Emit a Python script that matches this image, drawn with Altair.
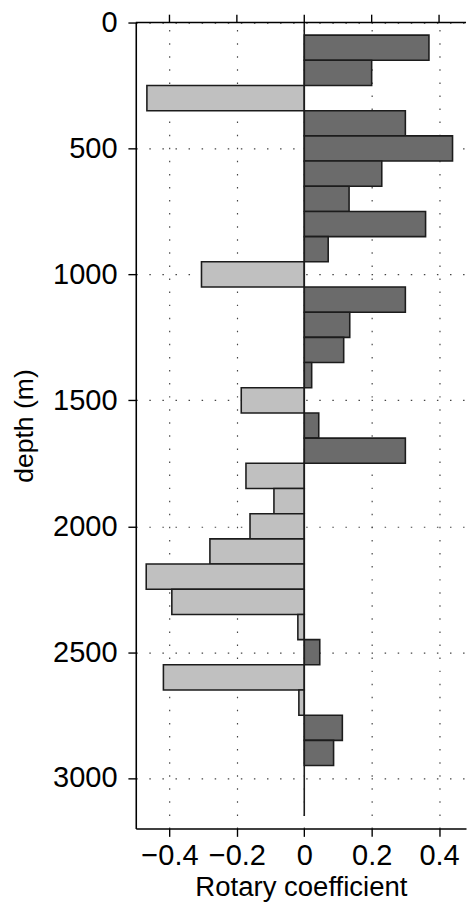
import altair as alt
import pandas as pd

# depth bin centres (m) and rotary coefficient per bin
depth_center = [100, 200, 300, 400, 500, 600, 700, 800, 900, 1000,
                1100, 1200, 1300, 1400, 1500, 1600, 1700, 1800, 1900, 2000,
                2100, 2200, 2300, 2400, 2500, 2600, 2700, 2800, 2900, 3000, 3100]
rotary = [0.37, 0.20, -0.467, 0.30, 0.44, 0.23, 0.133, 0.36, 0.071, -0.305,
          0.30, 0.135, 0.117, 0.022, -0.187, 0.043, 0.30, -0.173, -0.09, -0.161,
          -0.28, -0.469, -0.393, -0.019, 0.046, -0.418, -0.016, 0.113, 0.087, 0.0, 0.0]
bin_width = 100
x_domain = [-0.5, 0.48]
y_domain = [0, 3200]
x_ticks = [-0.4, -0.2, 0, 0.2, 0.4]
y_ticks = [0, 500, 1000, 1500, 2000, 2500, 3000]
zero_line = {"x": 0, "top": 0, "bottom": 3150}

df = pd.DataFrame({"depth": depth_center, "rc": rotary})
df = df[df["rc"] != 0]
df["sign"] = ["pos" if v > 0 else "neg" for v in df["rc"]]

FONT = "Liberation Sans"
xscale = alt.Scale(domain=x_domain, nice=False, zero=False)
yscale = alt.Scale(domain=y_domain, reverse=True, nice=False, zero=False)

lab_expr = "datum.value == 0 ? '0' : replace(format(datum.value, '.1f'), '-', '\u2212')"

xaxis = alt.Axis(orient="bottom", values=x_ticks, labelExpr=lab_expr,
                 title="Rotary coefficient", grid=True, titleFontSize=28,
                 tickSize=8, labelPadding=6, titlePadding=3.5)
yaxis = alt.Axis(orient="left", values=y_ticks, format="d", title="depth (m)", grid=True,
                 tickSize=8, labelPadding=11, titlePadding=14, titleFontSize=27)

bars = alt.Chart(df).transform_calculate(
    top=f"datum.depth - {bin_width}/2",
    bot=f"datum.depth + {bin_width}/2",
    zero="0",
).mark_bar(stroke="#1c1c1c", strokeWidth=1.6).encode(
    x=alt.X("rc:Q", scale=xscale, axis=xaxis),
    x2=alt.X2("zero:Q"),
    y=alt.Y("top:Q", scale=yscale, axis=yaxis),
    y2=alt.Y2("bot:Q"),
    color=alt.Color("sign:N", scale=alt.Scale(domain=["pos", "neg"], range=["#6b6b6b", "#c0c0c0"]),
                    legend=None),
)

zl = alt.Chart(pd.DataFrame([zero_line])).mark_rule(color="#1c1c1c", strokeWidth=1.6).encode(
    x=alt.X("x:Q", scale=xscale, axis=xaxis),
    y=alt.Y("top:Q", scale=yscale, axis=yaxis),
    y2=alt.Y2("bottom:Q"),
)

# top frame line and outward ticks
top_frame = alt.Chart(pd.DataFrame({"x0": [x_domain[0]], "x1": [x_domain[1]], "y": [y_domain[0]]})).mark_rule(
    color="black", strokeWidth=1.6).encode(
    x=alt.X("x0:Q", scale=xscale, axis=xaxis),
    x2=alt.X2("x1:Q"),
    y=alt.Y("y:Q", scale=yscale, axis=yaxis),
)
top_ticks = alt.Chart(pd.DataFrame({"t": x_ticks})).mark_rule(
    color="black", strokeWidth=1.4).encode(
    x=alt.X("t:Q", scale=xscale, axis=xaxis),
    y=alt.value(-8),
    y2=alt.value(0),
)

chart = alt.layer(bars, zl, top_frame, top_ticks).properties(
    width=467, height=895,
    autosize=alt.AutoSizeParams(type="fit", contains="padding"),
    padding={"left": 3, "top": -8, "right": 0, "bottom": -6},
).configure_view(strokeWidth=0).configure_axis(
    labelFont=FONT, titleFont=FONT, labelFontSize=29.5, titleFontSize=29.5,
    labelColor="black", titleColor="black", titleFontWeight="normal",
    domainColor="black", domainWidth=1.6, tickColor="black", tickWidth=1.4,
    gridColor="#444444", gridWidth=1.2, gridDash=[1.5, 11.8], gridOpacity=1,
)

chart.save("out.html", embed_options={"renderer": "svg", "actions": False})
